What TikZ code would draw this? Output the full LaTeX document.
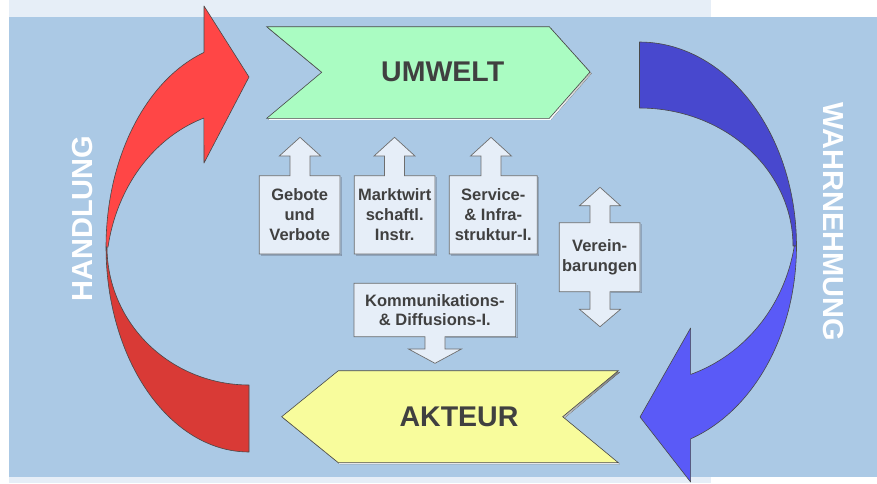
\documentclass[tikz,border=0pt]{standalone}
\usepackage{fontspec}
\setmainfont{Liberation Sans}
\definecolor{bgblue}{HTML}{ABC9E5}
\definecolor{strip}{HTML}{E6EEF7}
\definecolor{chgreen}{HTML}{AAFCC2}
\definecolor{chyellow}{HTML}{F8FC9C}
\definecolor{redL}{HTML}{FF4646}
\definecolor{redD}{HTML}{D93A36}
\definecolor{bluD}{HTML}{4848CE}
\definecolor{bluL}{HTML}{5A5AF7}
\definecolor{boxfill}{HTML}{E6EEF8}
\definecolor{boxedge}{HTML}{6E6E6E}
\definecolor{edge}{HTML}{484848}
\definecolor{txt}{HTML}{404040}
\definecolor{shade}{HTML}{7C8CA2}
\tikzset{
  ribbon/.style={draw=edge, line width=0.6pt, line join=round},
  chevron/.style={draw=edge, line width=0.6pt, line join=miter},
  boxshape/.style={fill=boxfill, draw=boxedge, line width=0.7pt},
  boxshadow/.style={fill=shade, opacity=0.6},
  boxtext/.style={font=\bfseries\fontsize{16.5}{20}\selectfont, text=txt, align=center, inner sep=0pt},
  bigtext/.style={font=\bfseries\fontsize{28.5}{30}\selectfont, text=txt, inner sep=0pt},
  sidetext/.style={font=\bfseries\fontsize{29}{30}\selectfont, text=white, inner sep=0pt}
}
\begin{document}
\begin{tikzpicture}[x=1pt, y=-1pt]
\useasboundingbox (0,0) rectangle (877,483);
% background
\fill[white] (0,0) rectangle (877,483);
\fill[strip] (9,0) rectangle (711,17);
\fill[strip] (9,477) rectangle (711,483);
\fill[bgblue] (9,17) rectangle (877,477);

% chevrons
\fill[shade] (268.2,28.2) -- (550.8,28.2) -- (591.5,73.5) -- (550.8,119.8) -- (268.2,119.8) -- (323.2,73.8) -- cycle;
\path[chevron, fill=chgreen] (266.7,26.7) -- (549.3,26.7) -- (590,72) -- (549.3,118.3) -- (266.7,118.3) -- (321.7,72.3) -- cycle;
\node[bigtext] (umwelt) at (442.7,71.7) {UMWELT};

\fill[shade] (339.8,372.2) -- (619.8,372.2) -- (564.2,418.2) -- (619.8,464.2) -- (339.8,464.2) -- (283.2,418.2) -- cycle;
\path[chevron, fill=chyellow] (338.3,370.7) -- (618.3,370.7) -- (562.7,416.7) -- (618.3,462.7) -- (338.3,462.7) -- (281.7,416.7) -- cycle;
\node[bigtext] (akteur) at (459,416.5) {AKTEUR};

% red curved arrow (HANDLUNG)
\path[ribbon, fill=redD] plot[domain=180:90, samples=50, variable=\t] ({249+143*cos(\t)},{247+205*sin(\t)})
  -- (249,385)
  -- plot[domain=90:180, samples=50, variable=\t] ({249+142*cos(\t)},{247+138*sin(\t)}) -- cycle;
\path[ribbon, fill=redL] (249,77) -- (204,6) -- (204,52)
  -- plot[domain=251.6:180, samples=50, variable=\t] ({249+143*cos(\t)},{247+205*sin(\t)})
  -- plot[domain=189.6:251.6, samples=50, variable=\t] ({249+143*cos(\t)},{274.6+165*sin(\t)})
  -- (204,163) -- cycle;

% blue curved arrow (WAHRNEHMUNG)
\path[ribbon, fill=bluD] plot[domain=-90:0, samples=50, variable=\t] ({639.5+157*cos(\t)},{246+204*sin(\t)})
  -- plot[domain=0:-90, samples=50, variable=\t] ({639.5+153.5*cos(\t)},{246+138*sin(\t)}) -- cycle;
\path[ribbon, fill=bluL] plot[domain=0:71, samples=50, variable=\t] ({639.5+157*cos(\t)},{246+204*sin(\t)})
  -- (690.6,482) -- (640,417) -- (690.6,328)
  -- plot[domain=71:9.6, samples=50, variable=\t] ({639.5+157*cos(\t)},{218.4+165*sin(\t)}) -- cycle;

% side labels
\node[sidetext, rotate=90] (handlung) at (82.5,218.5) {HANDLUNG};
\node[sidetext, rotate=-90] (wahrnehmung) at (833,221.7) {WAHRNEHMUNG};

% instrument boxes with up arrows
\fill[boxshadow] (341,177) rectangle (342,255.5);
\fill[boxshadow] (260.8,254) rectangle (342,255.5);
\path[boxshape] (259.3,254) -- (259.3,175.7) -- (290,175.7) -- (290,156) -- (279.3,156) -- (300,137.3) -- (320.7,156) -- (310,156) -- (310,175.7) -- (340,175.7) -- (340,254) -- cycle;
\node[boxtext] (gebote) at (299.7,214.9) {Gebote\\und\\Verbote};

\fill[boxshadow] (436,177) rectangle (437,255.5);
\fill[boxshadow] (355.8,254) rectangle (437,255.5);
\path[boxshape] (354.3,254) -- (354.3,175.7) -- (384.5,175.7) -- (384.5,156) -- (374,156) -- (394.5,137.3) -- (415,156) -- (404.5,156) -- (404.5,175.7) -- (435,175.7) -- (435,254) -- cycle;
\node[boxtext] (markt) at (394.7,214.9) {Marktwirt\\schaftl.\\Instr.};

\fill[boxshadow] (538.3,177) rectangle (539.3,255.5);
\fill[boxshadow] (450.8,254) rectangle (539.3,255.5);
\path[boxshape] (449.3,254) -- (449.3,175.7) -- (481,175.7) -- (481,156) -- (470.5,156) -- (491,137.3) -- (511.5,156) -- (501,156) -- (501,175.7) -- (537.3,175.7) -- (537.3,254) -- cycle;
\node[boxtext] (service) at (493.3,214.9) {Service-\\\& Infra-\\struktur-I.};

% Vereinbarungen with double arrow
\fill[boxshadow] (641,224) rectangle (642,293.2);
\fill[boxshadow] (611,291.7) rectangle (642,293.2);
\path[boxshape] (559.3,291.7) -- (559.3,222.7) -- (590,222.7) -- (590,205.7) -- (579.5,205.7) -- (600,187.3) -- (620.5,205.7) -- (610,205.7) -- (610,222.7) -- (640,222.7)
  -- (640,291.7) -- (610,291.7) -- (610,309.3) -- (620.5,309.3) -- (600,326.7) -- (579.5,309.3) -- (590,309.3) -- (590,291.7) -- cycle;
\node[boxtext] (verein) at (599.7,257.2) {Verein-\\barungen};

% Kommunikation with down arrow
\fill[boxshadow] (516.7,284.8) rectangle (517.7,338.2);
\fill[boxshadow] (446,336.7) rectangle (517.7,338.2);
\path[boxshape] (354,336.7) -- (354,283.3) -- (515.7,283.3) -- (515.7,336.7) -- (445,336.7) -- (445,349) -- (461.5,349) -- (435,363.3) -- (408.5,349) -- (425,349) -- (425,336.7) -- cycle;
\node[boxtext, font=\bfseries\fontsize{16.5}{19}\selectfont] (komm) at (434.9,310) {Kommunikations-\\\& Diffusions-I.};
\end{tikzpicture}
\end{document}
